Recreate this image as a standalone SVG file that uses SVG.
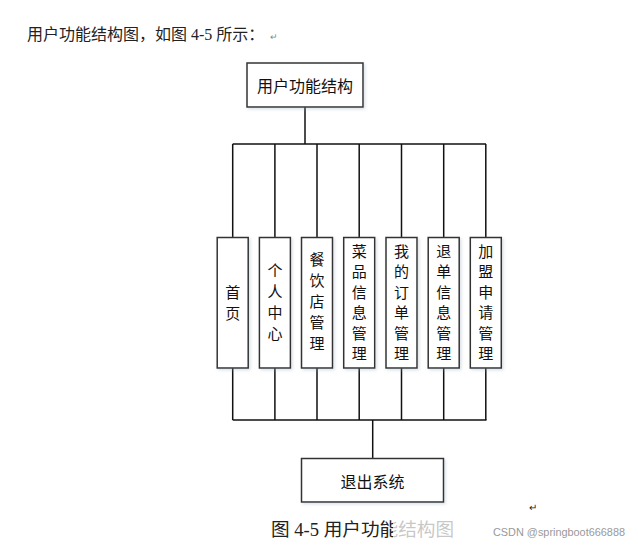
<svg xmlns="http://www.w3.org/2000/svg" width="638" height="545" viewBox="0 0 638 545">
<defs>
<style>
.t{font-family:"Noto Sans CJK SC","Liberation Sans",sans-serif;fill:#111;}
.s{font-family:"Liberation Serif","Noto Sans CJK SC",serif;fill:#222;}
.box{fill:#fff;stroke:#333;stroke-width:1.5;filter:url(#sh);}
.ln{stroke:#111;stroke-width:1.5;fill:none;}
.v{font-size:15px;text-anchor:middle;dominant-baseline:central;}
</style>
<filter id="sh" x="-20%" y="-20%" width="140%" height="140%">
<feDropShadow dx="1.5" dy="1.5" stdDeviation="1.5" flood-color="#9ab" flood-opacity="0.35"/>
</filter>
</defs>
<rect width="638" height="545" fill="#fff"/>
<text class="s" x="27" y="40" font-size="16">用户功能结构图，如图 4-5 所示：<tspan dx="6" font-size="9" fill="#888">↵</tspan></text>

<g id="connectors">
<path class="ln" d="M305,107 V144" stroke-width="2"/>
<path class="ln" d="M232.7,144 H486"/>
<path class="ln" d="M232.7,144 V237 M274.9,144 V237 M317,144 V237 M359.2,144 V237 M401.5,144 V237 M443.7,144 V237 M485.8,144 V237"/>
<path class="ln" d="M232.7,368 V420 M274.9,368 V420 M317,368 V420 M359.2,368 V420 M401.5,368 V420 M443.7,368 V420 M485.8,368 V420"/>
<path class="ln" d="M232.7,420 H486.5"/>
<path class="ln" d="M372.7,420 V458.5"/>
</g>

<g id="n-root">
<rect class="box" x="247" y="63" width="116" height="44"/>
<text class="t" x="305" y="85" font-size="16" text-anchor="middle" dominant-baseline="central">用户功能结构</text>
</g>

<g id="n-home">
<rect class="box" x="217.2" y="237.5" width="31" height="130.5"/>
<text class="t v"><tspan x="232.7" y="290.5">首</tspan><tspan x="232.7" y="311.5">页</tspan></text>
</g>
<g id="n-personal">
<rect class="box" x="259.4" y="237.5" width="31" height="130.5"/>
<text class="t v"><tspan x="274.9" y="268.5">个</tspan><tspan x="274.9" y="289.5">人</tspan><tspan x="274.9" y="310.5">中</tspan><tspan x="274.9" y="331.5">心</tspan></text>
</g>
<g id="n-restaurant">
<rect class="box" x="301.5" y="237.5" width="31" height="130.5"/>
<text class="t v"><tspan x="317" y="258">餐</tspan><tspan x="317" y="279">饮</tspan><tspan x="317" y="300">店</tspan><tspan x="317" y="321">管</tspan><tspan x="317" y="342">理</tspan></text>
</g>
<g id="n-dish">
<rect class="box" x="343.7" y="237.5" width="31" height="130.5"/>
<text class="t v"><tspan x="359.2" y="249.5">菜</tspan><tspan x="359.2" y="270">品</tspan><tspan x="359.2" y="290.5">信</tspan><tspan x="359.2" y="311">息</tspan><tspan x="359.2" y="331.5">管</tspan><tspan x="359.2" y="352">理</tspan></text>
</g>
<g id="n-order">
<rect class="box" x="386" y="237.5" width="31" height="130.5"/>
<text class="t v"><tspan x="401.5" y="249.5">我</tspan><tspan x="401.5" y="270">的</tspan><tspan x="401.5" y="290.5">订</tspan><tspan x="401.5" y="311">单</tspan><tspan x="401.5" y="331.5">管</tspan><tspan x="401.5" y="352">理</tspan></text>
</g>
<g id="n-refund">
<rect class="box" x="428.2" y="237.5" width="31" height="130.5"/>
<text class="t v"><tspan x="443.7" y="249.5">退</tspan><tspan x="443.7" y="270">单</tspan><tspan x="443.7" y="290.5">信</tspan><tspan x="443.7" y="311">息</tspan><tspan x="443.7" y="331.5">管</tspan><tspan x="443.7" y="352">理</tspan></text>
</g>
<g id="n-join">
<rect class="box" x="470.3" y="237.5" width="31" height="130.5"/>
<text class="t v"><tspan x="485.8" y="249.5">加</tspan><tspan x="485.8" y="270">盟</tspan><tspan x="485.8" y="290.5">申</tspan><tspan x="485.8" y="311">请</tspan><tspan x="485.8" y="331.5">管</tspan><tspan x="485.8" y="352">理</tspan></text>
</g>

<g id="n-logout">
<rect class="box" x="301.5" y="458.5" width="142" height="43.5"/>
<text class="t" x="372.5" y="480.5" font-size="16" text-anchor="middle" dominant-baseline="central">退出系统</text>
</g>

<text class="s" x="529" y="511" font-size="10" fill="#888">↵</text>
<text class="s" x="271" y="536" font-size="18" textLength="183" lengthAdjust="spacingAndGlyphs">图 4-5 用户功能结构图</text>
<rect x="393" y="515" width="245" height="30" fill="#fff" opacity="0.75"/>
<text x="493" y="536" font-size="11" font-family="Liberation Sans, sans-serif" fill="#999" textLength="132" lengthAdjust="spacingAndGlyphs">CSDN @springboot666888</text>
</svg>
